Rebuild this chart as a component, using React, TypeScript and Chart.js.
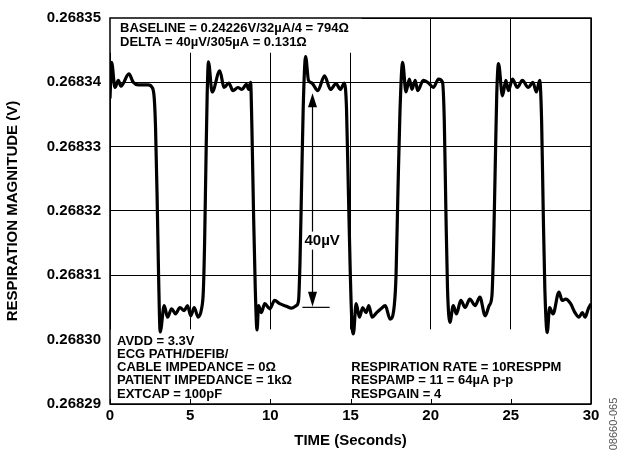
import React, { useEffect, useRef } from "react";
import { Chart, registerables } from "chart.js";

Chart.register(...registerables);

const FONT = '"Liberation Sans", Arial, Helvetica, sans-serif';

// ---- data (time in seconds, respiration magnitude in volts) ----
const cycle1T = [0, 0.10, 0.31, 0.52, 0.68, 1.18, 1.45, 1.76, 2.38, 2.63, 2.76, 2.84, 2.94, 3.03, 3.13, 3.38, 3.59, 3.84, 4.09, 4.36, 4.63, 4.83, 5.04, 5.25, 5.50, 5.71, 5.82, 5.90, 5.98, 6.06];
const cycle1V = [0.2683375, 0.2683431, 0.2683392, 0.2683403, 0.2683394, 0.2683413, 0.2683400, 0.2683396, 0.2683396, 0.2683392, 0.2683375, 0.2683330, 0.2683220, 0.2683100, 0.2683012, 0.2683053, 0.2683035, 0.2683048, 0.2683040, 0.2683050, 0.2683045, 0.2683053, 0.2683037, 0.2683050, 0.2683035, 0.2683048, 0.2683075, 0.2683150, 0.2683270, 0.2683380];

const cycle2T = [6.14, 6.37, 6.85, 7.11, 7.41, 7.67, 7.98, 8.23, 8.51, 8.65, 8.77, 8.85, 8.95, 9.06, 9.17, 9.27, 9.44, 9.65, 9.96, 10.27, 10.58, 11.00, 11.31, 11.62, 11.76, 11.85, 11.95, 12.05];
const cycle2V = [0.2683432, 0.2683385, 0.2683418, 0.2683392, 0.2683399, 0.2683387, 0.2683392, 0.2683389, 0.2683397, 0.2683389, 0.2683400, 0.2683330, 0.2683200, 0.2683080, 0.2683015, 0.2683053, 0.2683042, 0.2683056, 0.2683048, 0.2683061, 0.2683056, 0.2683052, 0.2683049, 0.2683053, 0.2683061, 0.2683120, 0.2683240, 0.2683360];

const cycle3T = [12.20, 12.38, 12.59, 12.96, 13.38, 13.75, 14.10, 14.37, 14.62, 14.75, 14.86, 14.98, 15.08, 15.18, 15.35, 15.56, 15.76, 15.97, 16.14, 16.35, 16.63, 16.90, 17.17, 17.47, 17.73, 17.84, 17.95, 18.08];
const cycle3V = [0.2683440, 0.2683403, 0.2683399, 0.2683387, 0.2683410, 0.2683389, 0.2683398, 0.2683389, 0.2683399, 0.2683360, 0.2683240, 0.2683110, 0.2683030, 0.2683009, 0.2683056, 0.2683035, 0.2683050, 0.2683042, 0.2683053, 0.2683035, 0.2683042, 0.2683048, 0.2683053, 0.2683032, 0.2683053, 0.2683100, 0.2683220, 0.2683350];

const cycle4T = [18.25, 18.46, 18.67, 18.83, 19.04, 19.19, 19.54, 19.91, 20.16, 20.49, 20.74, 20.85, 20.95, 21.05, 21.20, 21.41, 21.61, 21.88, 22.15, 22.44, 22.77, 23.07, 23.40, 23.65, 23.82, 23.92, 24.02, 24.12];
const cycle4V = [0.2683431, 0.2683385, 0.2683405, 0.2683389, 0.2683403, 0.2683387, 0.2683403, 0.2683398, 0.2683392, 0.2683405, 0.2683400, 0.2683340, 0.2683200, 0.2683080, 0.2683027, 0.2683053, 0.2683040, 0.2683061, 0.2683050, 0.2683063, 0.2683053, 0.2683066, 0.2683037, 0.2683053, 0.2683068, 0.2683140, 0.2683260, 0.2683380];

const cycle5T = [24.23, 24.48, 24.69, 24.85, 25.10, 25.41, 25.72, 26.09, 26.38, 26.59, 26.80, 26.92, 27.02, 27.12, 27.27, 27.42, 27.63, 28.00, 28.20, 28.42, 28.73, 29.00, 29.25, 29.46, 29.63, 29.83, 30.00];
const cycle5V = [0.2683429, 0.2683379, 0.2683403, 0.2683387, 0.2683405, 0.2683392, 0.2683403, 0.2683392, 0.2683400, 0.2683385, 0.2683403, 0.2683340, 0.2683200, 0.2683080, 0.2683011, 0.2683050, 0.2683040, 0.2683074, 0.2683061, 0.2683063, 0.2683056, 0.2683042, 0.2683035, 0.2683042, 0.2683035, 0.2683048, 0.2683056];

const xTicks = [0, 5, 10, 15, 20, 25, 30];
const yTicks = [0.26829, 0.2683, 0.26831, 0.26832, 0.26833, 0.26834, 0.26835];

// 40 µV marker (data units)
const markerT = 12.63;
const markerTop = 0.2683383;
const markerBottom = 0.2683051;
const markerBaseFrom = 12.0;
const markerBaseTo = 13.7;
const markerLabel = "40\u00b5V";

const topLines = ["BASELINE = 0.24226V/32\u00b5A/4 = 794\u03a9", "DELTA = 40\u00b5V/305\u00b5A = 0.131\u03a9"];
const leftLines = ["AVDD = 3.3V", "ECG PATH/DEFIB/", "CABLE IMPEDANCE = 0\u03a9", "PATIENT IMPEDANCE = 1k\u03a9", "EXTCAP = 100pF"];
const rightLines = ["RESPIRATION RATE = 10RESPPM", "RESPAMP = 11 = 64\u00b5A p-p", "RESPGAIN = 4"];
const figureId = "08660-065";

const toPoints = (t: number[], v: number[]) => t.map((x, i) => ({ x, y: v[i] }));
const points = [
  ...toPoints(cycle1T, cycle1V),
  ...toPoints(cycle2T, cycle2V),
  ...toPoints(cycle3T, cycle3V),
  ...toPoints(cycle4T, cycle4V),
  ...toPoints(cycle5T, cycle5V),
];

const overlay = {
  id: "overlay",
  beforeDatasetsDraw(chart: any) {
    const { ctx, chartArea: a, scales } = chart;
    const x = scales.x, y = scales.y;
    ctx.save();
    ctx.fillStyle = "#fff";
    const tbR = x.getPixelForValue(15.7);
    const tbB = y.getPixelForValue(0.2683446);
    ctx.fillRect(a.left, a.top, tbR - a.left, tbB - a.top);
    const bbT = y.getPixelForValue(0.2683016);
    ctx.fillRect(a.left, bbT, a.right - a.left, a.bottom - bbT);
    ctx.strokeStyle = "#000";
    ctx.lineWidth = 1;
    for (const v of xTicks) {
      const px = Math.round(x.getPixelForValue(v)) + 0.5;
      ctx.beginPath();
      ctx.moveTo(px, a.bottom);
      ctx.lineTo(px, a.bottom - 5);
      ctx.stroke();
    }
    ctx.restore();
  },
  afterDatasetsDraw(chart: any) {
    const { ctx, chartArea: a, scales } = chart;
    const x = scales.x, y = scales.y;
    ctx.save();
    ctx.strokeStyle = "#000";
    ctx.lineWidth = 1.5;
    ctx.strokeRect(a.left, a.top, a.right - a.left, a.bottom - a.top);

    const ax = x.getPixelForValue(markerT);
    const yT = y.getPixelForValue(markerTop);
    const yB = y.getPixelForValue(markerBottom);
    ctx.lineWidth = 1.2;
    ctx.beginPath();
    ctx.moveTo(ax, yT + 10);
    ctx.lineTo(ax, yB - 10);
    ctx.stroke();
    ctx.beginPath();
    ctx.moveTo(x.getPixelForValue(markerBaseFrom), yB + 0.5);
    ctx.lineTo(x.getPixelForValue(markerBaseTo), yB + 0.5);
    ctx.stroke();
    ctx.fillStyle = "#000";
    ctx.beginPath();
    ctx.moveTo(ax, yT);
    ctx.lineTo(ax - 4.5, yT + 14);
    ctx.lineTo(ax + 4.5, yT + 14);
    ctx.closePath();
    ctx.fill();
    ctx.beginPath();
    ctx.moveTo(ax, yB);
    ctx.lineTo(ax - 4.5, yB - 15);
    ctx.lineTo(ax + 4.5, yB - 15);
    ctx.closePath();
    ctx.fill();
    ctx.font = `bold 15px ${FONT}`;
    ctx.textBaseline = "middle";
    ctx.textAlign = "left";
    const lx = ax - 8;
    const ly = y.getPixelForValue(0.2683154);
    const w = ctx.measureText(markerLabel).width;
    ctx.fillStyle = "#fff";
    ctx.fillRect(lx - 1, ly - 9, w + 2, 18);
    ctx.fillStyle = "#000";
    ctx.fillText(markerLabel, lx, ly);

    ctx.font = `bold 13px ${FONT}`;
    topLines.forEach((s, i) => ctx.fillText(s, a.left + 10, a.top + 10 + i * 14));
    leftLines.forEach((s, i) => ctx.fillText(s, a.left + 7, 341 + i * 13.3));
    rightLines.forEach((s, i) => ctx.fillText(s, x.getPixelForValue(15.05), 367.6 + i * 13.3));
    ctx.restore();
  },
  afterDraw(chart: any) {
    const { ctx } = chart;
    ctx.save();
    ctx.translate(614, 424);
    ctx.rotate(-Math.PI / 2);
    ctx.font = `11px ${FONT}`;
    ctx.fillStyle = "#555";
    ctx.textAlign = "center";
    ctx.textBaseline = "middle";
    ctx.fillText(figureId, 0, 0);
    ctx.restore();
  },
};

export default function App() {
  const ref = useRef<HTMLCanvasElement>(null);
  useEffect(() => {
    const canvas = ref.current!;
    const tickFont = { family: FONT, size: 15, weight: "bold" as const };
    const chart = new Chart(canvas, {
      type: "line",
      data: {
        datasets: [
          {
            data: points,
            borderColor: "#000",
            borderWidth: 3.2,
            pointRadius: 0,
            cubicInterpolationMode: "monotone",
            fill: false,
          },
        ],
      },
      options: {
        responsive: false,
        animation: false,
        devicePixelRatio: 1,
        layout: { padding: { left: 0, right: 35, top: 18, bottom: 0 } },
        plugins: { legend: { display: false }, tooltip: { enabled: false } },
        scales: {
          x: {
            type: "linear",
            min: 0,
            max: 30,
            afterBuildTicks: (s: any) => {
              s.ticks = xTicks.map((v) => ({ value: v }));
            },
            afterFit: (s: any) => {
              s.height = 50;
            },
            grid: { color: "#000", lineWidth: 1, drawTicks: false },
            border: { display: false },
            ticks: { padding: 3, color: "#000", font: tickFont, maxRotation: 0, callback: (v: any) => String(v) },
            title: { display: true, text: "TIME (Seconds)", color: "#000", font: tickFont, padding: { top: 0, bottom: 4 } },
          },
          y: {
            type: "linear",
            min: 0.26829,
            max: 0.26835,
            afterBuildTicks: (s: any) => {
              s.ticks = yTicks.map((v) => ({ value: v }));
            },
            afterFit: (s: any) => {
              s.width = 110;
            },
            grid: { color: "#000", lineWidth: 1, drawTicks: false },
            border: { display: false },
            ticks: { padding: 9, color: "#000", font: tickFont, callback: (v: any) => Number(v).toFixed(5) },
            title: { display: true, text: "RESPIRATION MAGNITUDE (V)", color: "#000", font: tickFont, padding: { top: 4, bottom: 0 } },
          },
        },
      },
      plugins: [overlay],
    });
    return () => chart.destroy();
  }, []);
  return (
    <div style={{ position: "fixed", left: 0, top: 0, width: 626, height: 454, background: "#fff" }}>
      <canvas ref={ref} width={626} height={454} style={{ display: "block" }} />
    </div>
  );
}
